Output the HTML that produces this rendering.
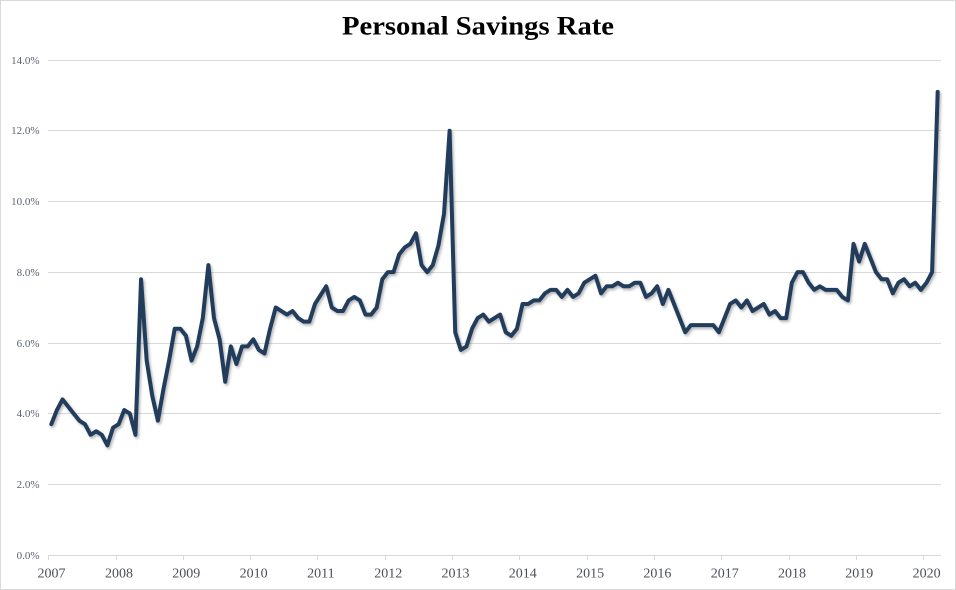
<!DOCTYPE html>
<html>
<head>
<meta charset="utf-8">
<style>
  html,body{margin:0;padding:0;background:#fff;}
  body{width:956px;height:590px;overflow:hidden;}
  svg{display:block;}
</style>
</head>
<body>
<svg width="956" height="590" viewBox="0 0 956 590" xmlns="http://www.w3.org/2000/svg">
  <defs>
    <filter id="sh" x="-5%" y="-5%" width="110%" height="115%">
      <feDropShadow dx="1.5" dy="2" stdDeviation="1.2" flood-color="#000" flood-opacity="0.28"/>
    </filter>
  </defs>
  <rect x="0" y="0" width="956" height="590" fill="#fff"/>
  <rect x="0.5" y="0.5" width="955" height="589" fill="none" stroke="#d9d9d9" stroke-width="1"/>

  <!-- Title -->
  <text x="478" y="34.5" text-anchor="middle" font-family="'Liberation Serif', serif" font-weight="bold" font-size="26" fill="#000" textLength="272" lengthAdjust="spacingAndGlyphs">Personal Savings Rate</text>

  <!-- Gridlines -->
  <g stroke="#d9d9d9" stroke-width="1">
    <line x1="48" y1="60.5" x2="941" y2="60.5"/>
    <line x1="48" y1="130.5" x2="941" y2="130.5"/>
    <line x1="48" y1="201.5" x2="941" y2="201.5"/>
    <line x1="48" y1="272.5" x2="941" y2="272.5"/>
    <line x1="48" y1="343.5" x2="941" y2="343.5"/>
    <line x1="48" y1="413.5" x2="941" y2="413.5"/>
    <line x1="48" y1="484.5" x2="941" y2="484.5"/>
    <line x1="48" y1="555.5" x2="941" y2="555.5"/>
  </g>
  <!-- X ticks -->
  <g stroke="#d9d9d9" stroke-width="1">
    <line x1="48.5" y1="555" x2="48.5" y2="560"/>
    <line x1="116.5" y1="555" x2="116.5" y2="560"/>
    <line x1="183.5" y1="555" x2="183.5" y2="560"/>
    <line x1="250.5" y1="555" x2="250.5" y2="560"/>
    <line x1="317.5" y1="555" x2="317.5" y2="560"/>
    <line x1="385.5" y1="555" x2="385.5" y2="560"/>
    <line x1="452.5" y1="555" x2="452.5" y2="560"/>
    <line x1="519.5" y1="555" x2="519.5" y2="560"/>
    <line x1="587.5" y1="555" x2="587.5" y2="560"/>
    <line x1="654.5" y1="555" x2="654.5" y2="560"/>
    <line x1="721.5" y1="555" x2="721.5" y2="560"/>
    <line x1="789.5" y1="555" x2="789.5" y2="560"/>
    <line x1="856.5" y1="555" x2="856.5" y2="560"/>
    <line x1="923.5" y1="555" x2="923.5" y2="560"/>
  </g>

  <!-- Y labels -->
  <g font-family="'Liberation Serif', serif" font-size="11" fill="#5a6270" text-anchor="end">
    <text x="39.5" y="64">14.0%</text>
    <text x="39.5" y="134">12.0%</text>
    <text x="39.5" y="205">10.0%</text>
    <text x="39.5" y="276">8.0%</text>
    <text x="39.5" y="347">6.0%</text>
    <text x="39.5" y="417">4.0%</text>
    <text x="39.5" y="488">2.0%</text>
    <text x="39.5" y="559">0.0%</text>
  </g>

  <!-- X labels -->
  <g font-family="'Liberation Serif', serif" font-size="14" fill="#4a4f58" text-anchor="middle">
    <text x="51.5" y="577.5">2007</text>
    <text x="119" y="577.5">2008</text>
    <text x="186.3" y="577.5">2009</text>
    <text x="253.6" y="577.5">2010</text>
    <text x="320.9" y="577.5">2011</text>
    <text x="388.2" y="577.5">2012</text>
    <text x="455.5" y="577.5">2013</text>
    <text x="522.8" y="577.5">2014</text>
    <text x="590.1" y="577.5">2015</text>
    <text x="657.4" y="577.5">2016</text>
    <text x="724.7" y="577.5">2017</text>
    <text x="792" y="577.5">2018</text>
    <text x="859.3" y="577.5">2019</text>
    <text x="926.6" y="577.5">2020</text>
  </g>

  <!-- Series -->
  <g filter="url(#sh)">
    <g transform="translate(51.3,555) scale(5.61,-35.357)">
      <polyline fill="none" stroke="#243d5c" stroke-width="4" stroke-linejoin="round" stroke-linecap="round" vector-effect="non-scaling-stroke"
        points="0,3.7 1,4.1 2,4.4 3,4.2 4,4.0 5,3.8 6,3.7 7,3.4 8,3.5 9,3.4 10,3.1 11,3.6
12,3.7 13,4.1 14,4.0 15,3.4 16,7.8 17,5.5 18,4.5 19,3.8 20,4.7 21,5.5 22,6.4 23,6.4
24,6.2 25,5.5 26,5.9 27,6.7 28,8.2 29,6.7 30,6.1 31,4.9 32,5.9 33,5.4 34,5.9 35,5.9
36,6.1 37,5.8 38,5.7 39,6.4 40,7.0 41,6.9 42,6.8 43,6.9 44,6.7 45,6.6 46,6.6 47,7.1
48,7.35 49,7.6 50,7.0 51,6.9 52,6.9 53,7.2 54,7.3 55,7.2 56,6.8 57,6.8 58,7.0 59,7.8
60,8.0 61,8.0 62,8.5 63,8.7 64,8.8 65,9.1 66,8.2 67,8.0 68,8.2 69,8.75 70,9.65 71,12.0
72,6.3 73,5.8 74,5.9 75,6.4 76,6.7 77,6.8 78,6.6 79,6.7 80,6.8 81,6.3 82,6.2 83,6.4
84,7.1 85,7.1 86,7.2 87,7.2 88,7.4 89,7.5 90,7.5 91,7.3 92,7.5 93,7.3 94,7.4 95,7.7
96,7.8 97,7.9 98,7.4 99,7.6 100,7.6 101,7.7 102,7.6 103,7.6 104,7.7 105,7.7 106,7.3 107,7.4
108,7.6 109,7.1 110,7.5 111,7.1 112,6.7 113,6.3 114,6.5 115,6.5 116,6.5 117,6.5 118,6.5 119,6.3
120,6.7 121,7.1 122,7.2 123,7.0 124,7.2 125,6.9 126,7.0 127,7.1 128,6.8 129,6.9 130,6.7 131,6.7
132,7.7 133,8.0 134,8.0 135,7.7 136,7.5 137,7.6 138,7.5 139,7.5 140,7.5 141,7.3 142,7.2 143,8.8
144,8.3 145,8.8 146,8.4 147,8.0 148,7.8 149,7.8 150,7.4 151,7.7 152,7.8 153,7.6 154,7.7 155,7.5
156,7.7 157,8.0 158,13.1"/>
    </g>
  </g>
</svg>
</body>
</html>
